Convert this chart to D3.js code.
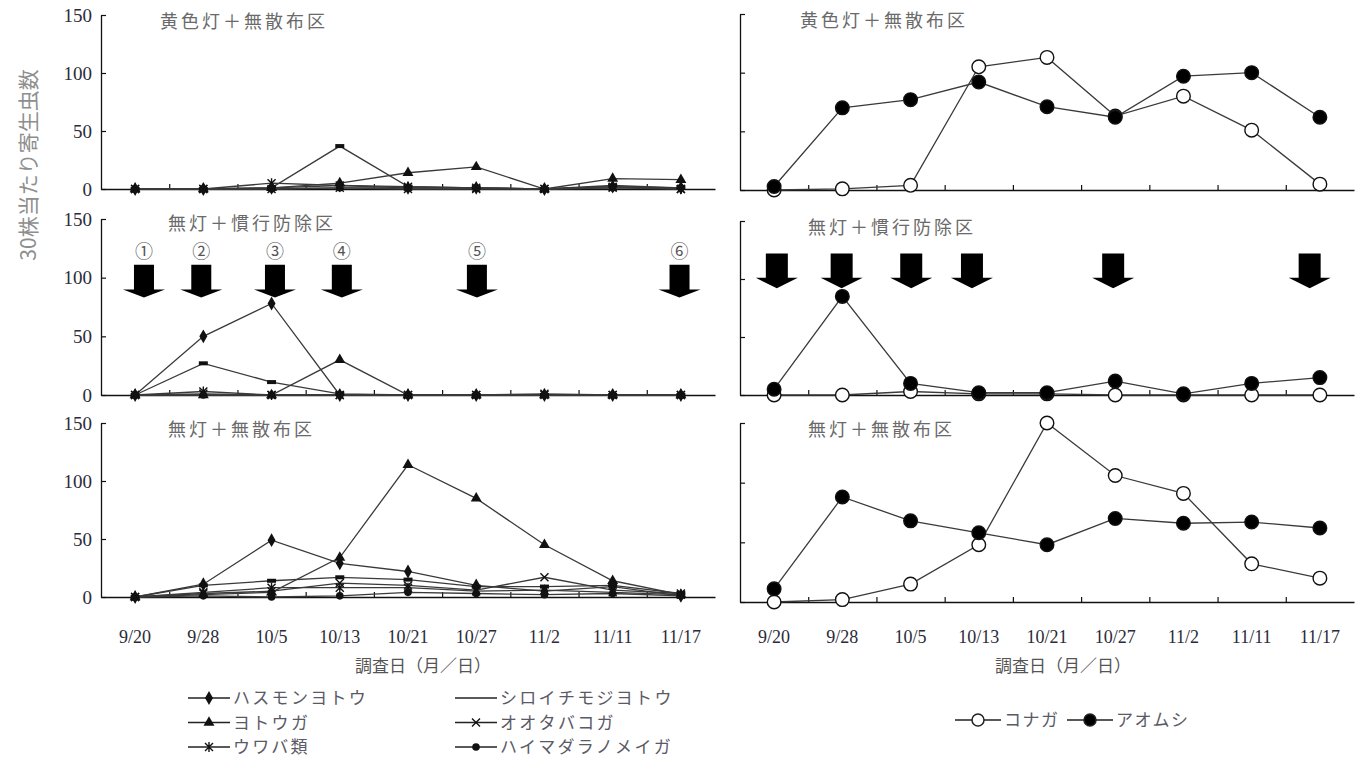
<!DOCTYPE html>
<html><head><meta charset="utf-8">
<script src="https://cdn.jsdelivr.net/npm/d3@7"></script>
<style>
body{margin:0;background:#fff;}
svg{display:block;}
</style></head><body>
<svg id="chart" width="1368" height="771"></svg>
<script>
// survey dates
const dates = ["9/20","9/28","10/5","10/13","10/21","10/27","11/2","11/11","11/17"];
const yTicks = [0, 50, 100, 150];
const plotNames = ["黄色灯＋無散布区", "無灯＋慣行防除区", "無灯＋無散布区"];
const yTitle = "30株当たり寄生虫数";
const xTitle = "調査日（月／日）";

// noctuid and pyralid pests (left column), per plot
const leftNames = ["ハスモンヨトウ","シロイチモジヨトウ","ヨトウガ","オオタバコガ","ウワバ類","ハイマダラノメイガ"];
const hasumonYellow   = [0, 0, 1, 3, 1, 1, 0, 2, 1];
const shiroichiYellow = [0, 0, 1, 37, 2, 1, 0, 3, 1];
const yotougaYellow   = [0, 0, 1, 5, 14, 19, 0, 9, 8];
const ootabakoYellow  = [0, 0, 0, 1, 0, 0, 0, 1, 0];
const uwabaYellow     = [0, 0, 5, 3, 2, 1, 0, 2, 0];
const haimadaraYellow = [0, 0, 0, 1, 1, 1, 0, 1, 1];

const hasumonSpray    = [0, 50, 78, 0, 0, 0, 0, 0, 0];
const shiroichiSpray  = [0, 27, 11, 1, 0, 0, 0, 0, 0];
const yotougaSpray    = [0, 0, 0, 30, 0, 0, 0, 0, 0];
const ootabakoSpray   = [0, 1, 0, 0, 0, 0, 0, 0, 0];
const uwabaSpray      = [0, 3, 0, 0, 0, 0, 1, 0, 0];
const haimadaraSpray  = [0, 0, 0, 0, 0, 0, 0, 0, 0];

const hasumonNone     = [0, 11, 49, 29, 22, 10, 5, 9, 1];
const shiroichiNone   = [0, 10, 14, 17, 15, 9, 9, 10, 3];
const yotougaNone     = [0, 2, 4, 34, 114, 85, 45, 14, 2];
const ootabakoNone    = [0, 3, 5, 12, 10, 6, 17, 6, 3];
const uwabaNone       = [0, 4, 8, 8, 8, 5, 6, 4, 2];
const haimadaraNone   = [0, 1, 0, 1, 4, 3, 2, 3, 1];

// diamondback moth and cabbage worm (right column), per plot
const rightNames = ["コナガ","アオムシ"];
const konagaYellow  = [0, 1, 4, 105, 113, 63, 80, 51, 5];
const aomushiYellow = [3, 70, 77, 92, 71, 62, 97, 100, 62];
const konagaSpray   = [0, 0, 3, 1, 1, 0, 0, 0, 0];
const aomushiSpray  = [5, 85, 10, 2, 2, 12, 1, 10, 15];
const konagaNone    = [0, 2, 15, 48, 150, 106, 91, 32, 20];
const aomushiNone   = [11, 88, 68, 58, 48, 70, 66, 67, 62];

// insecticide applications (position in survey-date index units)
const sprayLabels = ["①","②","③","④","⑤","⑥"];
const sprayPosLeft  = [0.13, 0.97, 2.05, 3.03, 5.01, 7.98];
const sprayPosRight = [0.04, 0.99, 2.01, 2.9, 4.97, 7.85];

const leftSeries = [
  [hasumonYellow, shiroichiYellow, yotougaYellow, ootabakoYellow, uwabaYellow, haimadaraYellow],
  [hasumonSpray, shiroichiSpray, yotougaSpray, ootabakoSpray, uwabaSpray, haimadaraSpray],
  [hasumonNone, shiroichiNone, yotougaNone, ootabakoNone, uwabaNone, haimadaraNone]
];
const rightSeries = [
  [konagaYellow, aomushiYellow],
  [konagaSpray, aomushiSpray],
  [konagaNone, aomushiNone]
];

const svg = d3.select("#chart");
const serif = "'Liberation Serif','DejaVu Serif',serif";
const jp = "'Noto Sans CJK JP','Noto Sans',sans-serif";
const lineColor = "#3a3a3a";

const cols = [
  {x0: 101, x1: 715, rows: [{top: 15, bot: 189}, {top: 219, bot: 395}, {top: 423, bot: 597}], labels: true, titleX: 160},
  {x0: 740, x1: 1354, rows: [{top: 14, bot: 190}, {top: 221, bot: 395}, {top: 423, bot: 602}], labels: false, titleX: 800}
];

// marker drawers for the six left-column species
const markerKinds = ["diamond","dash","triangle","cross","asterisk","circle"];
function drawMarker(g, kind, cx, cy) {
  const s = g.append("g").attr("transform", `translate(${cx},${cy})`);
  if (kind === "diamond") s.append("path").attr("d", d3.symbol(d3.symbolDiamond, 55)()).attr("fill", "#111");
  else if (kind === "triangle") s.append("path").attr("d", d3.symbol(d3.symbolTriangle, 52)()).attr("fill", "#111");
  else if (kind === "circle") s.append("circle").attr("r", 3.8).attr("fill", "#111");
  else if (kind === "dash") s.append("rect").attr("x", -4.5).attr("y", -2).attr("width", 9).attr("height", 4).attr("fill", "#111");
  else if (kind === "cross") s.append("path").attr("d", "M-4,-4L4,4M-4,4L4,-4").attr("stroke", "#111").attr("stroke-width", 1.4);
  else if (kind === "asterisk") s.append("path").attr("d", "M-4,-4L4,4M-4,4L4,-4M0,-5L0,5").attr("stroke", "#111").attr("stroke-width", 1.4);
}

cols.forEach((col, ci) => {
  const x = d3.scaleBand().domain(dates).range([col.x0, col.x1]);
  const step = x.step();
  const xc = i => col.x0 + step * (i + 0.5);
  const xEdge = d3.scaleLinear().domain([0, dates.length]).range([col.x0, col.x1]);

  col.rows.forEach((row, ri) => {
    const y = d3.scaleLinear().domain([0, 150]).range([row.bot, row.top]);
    const g = svg.append("g");

    // y axis with inward ticks
    const yAxis = d3.axisLeft(y).tickValues(yTicks).tickSizeInner(-5).tickSizeOuter(0).tickPadding(9);
    if (!col.labels) yAxis.tickFormat("");
    const ya = g.append("g").attr("transform", `translate(${col.x0},0)`).call(yAxis);
    ya.select(".domain").attr("stroke", "#111").attr("stroke-width", 1.3);
    ya.selectAll(".tick line").attr("stroke", "#111").attr("stroke-width", 1.2);
    ya.selectAll(".tick text").attr("font-family", serif).attr("font-size", 19).attr("fill", "#2b2b38");

    // x axis line with inward ticks between dates
    const xa = g.append("g").attr("transform", `translate(0,${row.bot})`)
      .call(d3.axisBottom(xEdge).tickValues(d3.range(1, dates.length)).tickSizeInner(-5).tickSizeOuter(0).tickFormat(""));
    xa.select(".domain").attr("stroke", "#111").attr("stroke-width", 1.4);
    xa.selectAll(".tick line").attr("stroke", "#111").attr("stroke-width", 1.2);

    if (ri === 2) {
      const xl = g.append("g").attr("transform", `translate(0,${row.bot})`)
        .call(d3.axisBottom(x).tickSize(0).tickPadding(ci === 0 ? 33 : 28));
      xl.select(".domain").remove();
      xl.selectAll("text").attr("font-family", serif).attr("font-size", 18).attr("fill", "#2b2b38");
    }

    // plot title
    g.append("text").attr("x", col.titleX + (ri === 0 ? 0 : 8)).attr("y", row.top + (ri === 1 && ci === 0 ? 11 : 13))
      .attr("font-family", jp).attr("font-size", 18).attr("letter-spacing", 3)
      .attr("fill", "#6a6a6a").text(plotNames[ri]);

    // spray arrows
    if (ri === 1) {
      const pos = ci === 0 ? sprayPosLeft : sprayPosRight;
      const geo = ci === 0 ? {top: 111, head: 90, tip: 83, shaft: 20, width: 42}
                           : {top: 122, head: 101, tip: 92, shaft: 22, width: 42};
      pos.forEach((p, k) => {
        const cx = xc(p);
        const yt = y(geo.top), yh = y(geo.head), yp = y(geo.tip);
        const hs = geo.shaft / 2, hw = geo.width / 2;
        g.append("path")
          .attr("d", `M${cx - hs},${yt}L${cx + hs},${yt}L${cx + hs},${yh}L${cx + hw},${yh}L${cx},${yp}L${cx - hw},${yh}L${cx - hs},${yh}Z`)
          .attr("fill", "#000");
        if (ci === 0) {
          g.append("text").attr("x", cx).attr("y", y(122)).attr("dy", "0.35em")
            .attr("text-anchor", "middle").attr("font-family", jp).attr("font-size", 18)
            .attr("fill", "#555").text(sprayLabels[k]);
        }
      });
    }

    // series lines and markers
    const line = d3.line().x((d, i) => xc(i)).y(d => y(d));
    if (ci === 0) {
      const sets = leftSeries[ri];
      sets.forEach(vals => {
        g.append("path").attr("d", line(vals)).attr("fill", "none")
          .attr("stroke", lineColor).attr("stroke-width", 1.3);
      });
      sets.forEach((vals, si) => {
        vals.forEach((v, i) => drawMarker(g, markerKinds[si], xc(i), y(v)));
      });
    } else {
      const sets = rightSeries[ri];
      sets.forEach(vals => {
        g.append("path").attr("d", line(vals)).attr("fill", "none")
          .attr("stroke", lineColor).attr("stroke-width", 1.3);
      });
      sets.forEach((vals, si) => {
        g.selectAll(null).data(vals).enter().append("circle")
          .attr("cx", (d, i) => xc(i)).attr("cy", d => y(d)).attr("r", 6.8)
          .attr("fill", si === 0 ? "#fff" : "#000").attr("stroke", "#111").attr("stroke-width", 1.4);
      });
    }
  });

  // x axis title
  svg.append("text").attr("x", (ci === 0 ? 423 : 1063)).attr("y", 672)
    .attr("text-anchor", "middle").attr("font-family", jp).attr("font-size", 17)
    .attr("fill", "#555").text(xTitle);
});

// y axis title
svg.append("text").attr("transform", "translate(36,165) rotate(-90)")
  .attr("text-anchor", "middle").attr("font-family", jp).attr("font-size", 21)
  .attr("fill", "#8e8e8e").text(yTitle);

// left legend (two columns x three rows)
const legLeft = svg.append("g");
leftNames.forEach((name, i) => {
  const colIdx = i % 2, rowIdx = Math.floor(i / 2);
  const lx = colIdx === 0 ? 188 : 455;
  const ly = 698 + rowIdx * 24.5;
  legLeft.append("line").attr("x1", lx).attr("x2", lx + 42).attr("y1", ly).attr("y2", ly)
    .attr("stroke", "#222").attr("stroke-width", 1.6);
  if (markerKinds[i] !== "dash") drawMarker(legLeft, markerKinds[i], lx + 21, ly);
  legLeft.append("text").attr("x", lx + 45).attr("y", ly).attr("dy", "0.36em")
    .attr("font-family", jp).attr("font-size", 17).attr("letter-spacing", 2.3)
    .attr("fill", "#5a5a66").text(name);
});

// right legend
const legRight = svg.append("g");
const rightLegX = [955, 1067];
rightNames.forEach((name, i) => {
  const lx = rightLegX[i], ly = 720;
  legRight.append("line").attr("x1", lx).attr("x2", lx + 46).attr("y1", ly).attr("y2", ly)
    .attr("stroke", "#222").attr("stroke-width", 1.6);
  legRight.append("circle").attr("cx", lx + 23).attr("cy", ly).attr("r", 6)
    .attr("fill", i === 0 ? "#fff" : "#000").attr("stroke", "#222").attr("stroke-width", 1.5);
  legRight.append("text").attr("x", lx + 49).attr("y", ly).attr("dy", "0.36em")
    .attr("font-family", jp).attr("font-size", 17).attr("letter-spacing", 1.5)
    .attr("fill", "#5a5a66").text(name);
});
</script>
</body></html>
